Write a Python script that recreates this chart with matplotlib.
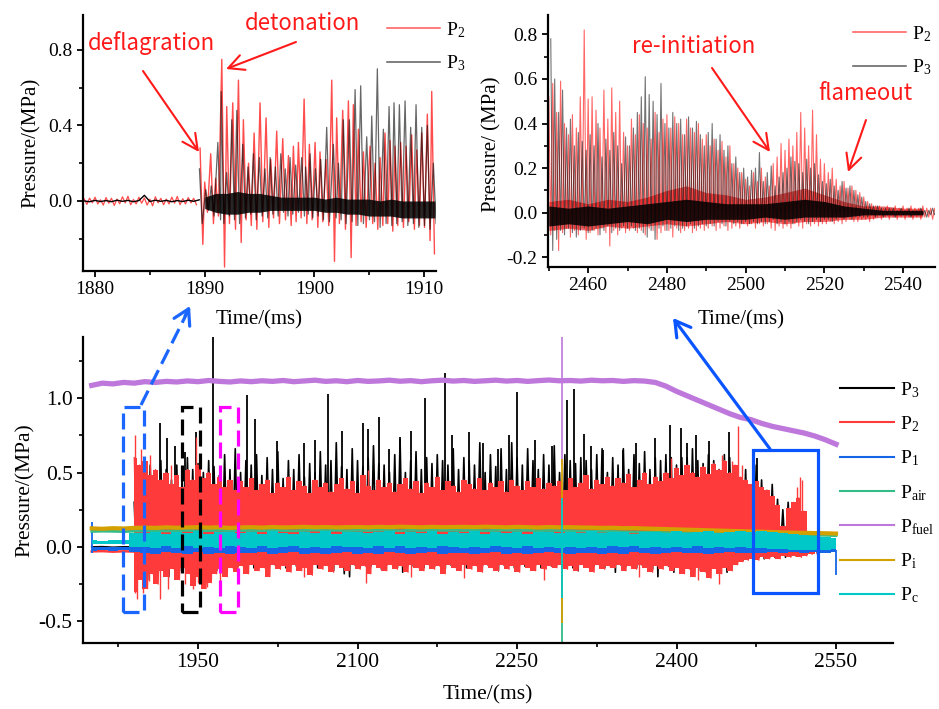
import numpy as np
import matplotlib
matplotlib.use('Agg')
import matplotlib.pyplot as plt
from matplotlib.lines import Line2D
from matplotlib.patches import Rectangle, FancyArrowPatch
from matplotlib.ticker import MultipleLocator, FixedLocator, FormatStrFormatter

plt.rcParams['font.family'] = ['Liberation Serif', 'DejaVu Serif']
plt.rcParams['mathtext.fontset'] = 'custom'
plt.rcParams['mathtext.rm'] = 'Liberation Serif'
plt.rcParams['mathtext.it'] = 'Liberation Serif:italic'
plt.rcParams['mathtext.bf'] = 'Liberation Serif:bold'

# ---------------- colours ----------------
C_P3 = '#000000'
C_P2 = '#FF3A3A'
C_P1 = '#1466E6'
C_AIR = '#33BB88'
C_FUEL = '#BE78DC'
C_I = '#D4A000'
C_C = '#00C8C8'

# ================= top-left panel data (1879-1911 ms) =================
tl_p2_pre = [0.012,-0.018,0.015,-0.010,0.020,-0.016,0.006,-0.022,0.018,-0.012,
             0.014,-0.024,0.010,-0.015,0.022,-0.010,0.025,-0.020,0.008,-0.016,
             0.020,-0.012,0.016,-0.022,0.010,-0.026,0.022,-0.010,0.014,-0.020,
             0.010,-0.016,0.020,-0.012,0.024,-0.020,0.012,-0.016,0.018,-0.010,
             0.014,-0.020]
tl_p3_pre = [0.000,-0.004,0.003,-0.003,0.002,-0.004,0.004,-0.002,0.003,-0.004,
             0.002,0.030,-0.003,0.004,-0.002,0.003,-0.004,0.002,-0.003,0.004,
             -0.002,0.006]
tl_p2_t = [1889.58,1890.0,1890.55,1891.0,1891.56,1892.01,1892.56,1893.08,1893.53,1894.0,
           1894.51,1895.05,1895.6,1896.03,1896.57,1897.12,1897.64,1898.09,1898.55,1899.07,
           1899.55,1900.07,1900.52,1901.07,1901.59,1902.04,1902.59,1903.11,1903.56,1904.02,
           1904.48,1905.08,1905.54,1906.0,1906.45,1906.91,1907.36,1907.88,1908.37,1908.88,
           1909.34,1909.8,1910.31,1910.71]
tl_p2_peak = [0.28,0.10,0.25,0.12,0.75,0.50,0.52,0.64,0.43,0.20,
              0.36,0.52,0.44,0.22,0.37,0.33,0.24,0.29,0.31,0.54,
              0.30,0.31,0.26,0.22,0.64,0.44,0.48,0.53,0.51,0.38,
              0.26,0.29,0.20,0.23,0.36,0.32,0.29,0.31,0.29,0.35,
              0.27,0.36,0.46,0.58]
tl_p2_trough = [-0.23,-0.06,-0.12,-0.08,-0.35,-0.12,-0.15,-0.22,-0.10,-0.13,
                -0.15,-0.11,-0.14,-0.09,-0.12,-0.10,-0.13,-0.11,-0.09,-0.12,
                -0.10,-0.14,-0.11,-0.13,-0.32,-0.12,-0.15,-0.30,-0.13,-0.11,
                -0.14,-0.12,-0.15,-0.13,-0.12,-0.16,-0.13,-0.14,-0.11,-0.15,
                -0.13,-0.14,-0.21,-0.28]
tl_p3_t = [1889.52,1890.1,1890.6,1891.2,1891.5,1892.0,1892.47,1892.93,1893.47,1893.95,
           1894.45,1894.99,1895.5,1895.97,1896.45,1896.94,1897.35,1897.79,1898.3,1898.85,
           1899.2,1899.61,1900.1,1900.58,1901.13,1901.74,1902.2,1902.65,1903.2,1903.72,
           1904.23,1904.78,1905.24,1905.75,1906.3,1906.82,1907.27,1907.76,1908.28,1908.79,
           1909.28,1909.8,1910.31,1910.86]
tl_p3_peak = [0.17,0.06,0.08,0.31,0.58,0.15,0.43,0.48,0.30,0.18,
              0.25,0.23,0.17,0.23,0.18,0.25,0.17,0.23,0.19,0.23,
              0.18,0.25,0.17,0.22,0.39,0.30,0.20,0.43,0.43,0.59,
              0.61,0.34,0.45,0.70,0.38,0.50,0.52,0.51,0.53,0.39,
              0.51,0.39,0.40,0.20]
tl_p3_trough = [-0.12,-0.05,-0.08,-0.10,-0.12,-0.08,-0.10,-0.12,-0.09,-0.07,
                -0.10,-0.08,-0.09,-0.07,-0.08,-0.06,-0.08,-0.07,-0.06,-0.08,
                -0.07,-0.09,-0.08,-0.10,-0.11,-0.09,-0.10,-0.12,-0.11,-0.13,
                -0.12,-0.10,-0.11,-0.14,-0.12,-0.13,-0.12,-0.11,-0.13,-0.12,
                -0.14,-0.13,-0.15,-0.12]
tl_p3_core_hi = [0.02,0.04,0.04,0.05,0.04,0.04,0.03,0.02,0.02,0.02,0.02,
                 0.01,0.02,0.01,0.01,0.01,0.00,0.01,0.00,0.00,0.00,0.00]
tl_p3_core_lo = [-0.04,-0.06,-0.07,-0.07,-0.06,-0.06,-0.05,-0.05,-0.05,-0.05,-0.05,
                 -0.06,-0.06,-0.07,-0.07,-0.08,-0.08,-0.08,-0.09,-0.09,-0.09,-0.09]

# ================= top-right panel data (2450-2548 ms, 1 ms cycles) =================
tr_p2_peak = [0.52,0.58,0.45,0.59,0.40,0.35,0.44,0.38,0.52,0.82,
              0.51,0.52,0.46,0.38,0.55,0.42,0.56,0.45,0.50,0.36,
              0.30,0.42,0.35,0.44,0.40,0.38,0.33,0.45,0.36,0.42,
              0.44,0.38,0.43,0.40,0.35,0.42,0.38,0.36,0.40,0.33,
              0.35,0.30,0.33,0.28,0.32,0.25,0.30,0.22,0.20,0.18,
              0.15,0.12,0.18,0.14,0.20,0.16,0.12,0.22,0.25,0.31,
              0.28,0.33,0.30,0.36,0.45,0.38,0.30,0.46,0.35,0.24,
              0.22,0.18,0.20,0.15,0.12,0.14,0.11,0.12,0.10,0.09,
              0.07,0.05,0.04,0.03,0.03,0.02,0.03,0.02,0.03,0.02,
              0.03,0.02,0.03,0.02,0.02,0.03,0.02,0.02,0.02]
tr_p2_trough = [-0.10,-0.08,-0.17,-0.09,-0.07,-0.11,-0.08,-0.10,-0.07,-0.12,
                -0.09,-0.08,-0.10,-0.07,-0.09,-0.15,-0.08,-0.10,-0.07,-0.09,
                -0.08,-0.07,-0.09,-0.08,-0.10,-0.07,-0.08,-0.12,-0.09,-0.08,
                -0.08,-0.11,-0.07,-0.09,-0.08,-0.07,-0.09,-0.08,-0.07,-0.08,
                -0.07,-0.06,-0.08,-0.07,-0.06,-0.08,-0.07,-0.06,-0.07,-0.05,
                -0.06,-0.05,-0.07,-0.05,-0.06,-0.05,-0.07,-0.08,-0.06,-0.07,
                -0.06,-0.07,-0.05,-0.06,-0.07,-0.05,-0.06,-0.05,-0.06,-0.05,
                -0.05,-0.04,-0.05,-0.04,-0.05,-0.04,-0.03,-0.04,-0.04,-0.03,
                -0.03,-0.04,-0.03,-0.02,-0.03,-0.02,-0.03,-0.02,-0.03,-0.02,
                -0.03,-0.02,-0.03,-0.02,-0.03,-0.02,-0.02,-0.03,-0.02]
tr_p3_peak = [0.78,0.60,0.45,0.55,0.38,0.42,0.30,0.36,0.32,0.28,
              0.35,0.30,0.40,0.25,0.33,0.28,0.36,0.30,0.22,0.34,
              0.30,0.38,0.45,0.52,0.61,0.53,0.50,0.44,0.58,0.40,
              0.38,0.45,0.40,0.42,0.35,0.43,0.38,0.41,0.35,0.30,
              0.36,0.40,0.33,0.35,0.28,0.30,0.22,0.25,0.18,0.20,
              0.16,0.19,0.20,0.27,0.14,0.18,0.21,0.12,0.16,0.18,
              0.20,0.25,0.23,0.22,0.18,0.24,0.20,0.22,0.17,0.14,
              0.13,0.15,0.12,0.10,0.14,0.11,0.12,0.10,0.08,0.07,
              0.05,0.04,0.03,0.03,0.02,0.02,0.02,0.02,0.01,0.02,
              0.01,0.02,0.01,0.01,0.02,0.01,0.01,0.02,0.01]
tr_p3_trough = [-0.17,-0.12,-0.08,-0.10,-0.07,-0.09,-0.11,-0.08,-0.07,-0.09,
                -0.08,-0.07,-0.10,-0.08,-0.06,-0.09,-0.07,-0.08,-0.06,-0.07,
                -0.06,-0.08,-0.07,-0.09,-0.11,-0.08,-0.12,-0.07,-0.06,-0.08,
                -0.07,-0.06,-0.08,-0.07,-0.06,-0.05,-0.07,-0.06,-0.05,-0.06,
                -0.05,-0.06,-0.04,-0.05,-0.06,-0.04,-0.05,-0.04,-0.05,-0.04,
                -0.05,-0.04,-0.05,-0.04,-0.05,-0.04,-0.03,-0.05,-0.04,-0.05,
                -0.04,-0.05,-0.04,-0.03,-0.04,-0.05,-0.04,-0.03,-0.04,-0.03,
                -0.03,-0.04,-0.03,-0.02,-0.03,-0.02,-0.03,-0.02,-0.02,-0.02,
                -0.02,-0.01,-0.02,-0.01,-0.02,-0.01,-0.01,-0.02,-0.01,-0.01,
                -0.01,-0.02,-0.01,-0.01,-0.01,-0.02,-0.01,-0.01,-0.01]
tr_p2_core_hi = [0.05,0.06,0.04,0.06,0.05,0.07,0.10,0.12,0.09,0.08,
                 0.06,0.07,0.09,0.11,0.08,0.05,0.03,0.03,0.02,0.02]
tr_p2_core_lo = [-0.08,-0.07,-0.08,-0.06,-0.07,-0.06,-0.05,-0.06,-0.05,-0.04,
                 -0.05,-0.04,-0.05,-0.04,-0.04,-0.03,-0.03,-0.02,-0.02,-0.02]
tr_p3_core_hi = [0.03,0.02,0.03,0.02,0.03,0.04,0.05,0.06,0.05,0.04,
                 0.04,0.04,0.05,0.06,0.05,0.03,0.02,0.01,0.01,0.01]
tr_p3_core_lo = [-0.06,-0.05,-0.06,-0.05,-0.04,-0.05,-0.03,-0.04,-0.03,-0.03,
                 -0.03,-0.02,-0.03,-0.02,-0.02,-0.02,-0.01,-0.01,-0.01,-0.01]

# ================= bottom panel data (1850-2550 ms) =================
# 5 ms envelopes, 1890-2530 ms
b_p2_hi = [0.60,0.55,0.58,0.48,0.52,0.45,0.50,0.42,0.48,0.40,
           0.52,0.45,0.55,0.46,0.50,0.42,0.47,0.40,0.45,0.38,
           0.44,0.40,0.46,0.38,0.42,0.45,0.36,0.43,0.40,0.47,
           0.38,0.44,0.41,0.36,0.45,0.40,0.43,0.37,0.42,0.46,
           0.39,0.44,0.36,0.48,0.41,0.38,0.45,0.40,0.43,0.37,
           0.42,0.46,0.39,0.44,0.36,0.43,0.40,0.47,0.38,0.44,
           0.41,0.37,0.45,0.42,0.39,0.46,0.38,0.43,0.40,0.44,
           0.37,0.45,0.41,0.38,0.44,0.40,0.46,0.39,0.43,0.41,
           0.44,0.38,0.46,0.40,0.43,0.48,0.39,0.45,0.42,0.47,
           0.41,0.46,0.43,0.49,0.40,0.45,0.50,0.42,0.47,0.44,
           0.50,0.46,0.53,0.48,0.55,0.50,0.47,0.54,0.49,0.56,
           0.52,0.58,0.50,0.55,0.47,0.45,0.42,0.44,0.40,0.38,
           0.34,0.28,0.14,0.26,0.30,0.33,0.24,0.06,0.05]
b_p2_lo = [-0.30,-0.22,-0.28,-0.18,-0.25,-0.16,-0.20,-0.15,-0.22,-0.14,
           -0.18,-0.26,-0.20,-0.28,-0.24,-0.18,-0.15,-0.20,-0.14,-0.17,
           -0.13,-0.18,-0.12,-0.16,-0.14,-0.20,-0.12,-0.15,-0.13,-0.17,
           -0.12,-0.16,-0.14,-0.19,-0.12,-0.15,-0.13,-0.17,-0.12,-0.14,
           -0.16,-0.12,-0.15,-0.13,-0.18,-0.12,-0.14,-0.16,-0.12,-0.15,
           -0.13,-0.17,-0.12,-0.14,-0.16,-0.12,-0.15,-0.13,-0.18,-0.12,
           -0.14,-0.16,-0.12,-0.15,-0.13,-0.17,-0.12,-0.14,-0.16,-0.12,
           -0.15,-0.13,-0.17,-0.12,-0.14,-0.16,-0.12,-0.15,-0.13,-0.14,
           -0.12,-0.15,-0.13,-0.16,-0.12,-0.14,-0.17,-0.12,-0.15,-0.13,
           -0.14,-0.12,-0.16,-0.13,-0.15,-0.12,-0.14,-0.17,-0.13,-0.15,
           -0.13,-0.16,-0.14,-0.18,-0.15,-0.20,-0.14,-0.17,-0.21,-0.15,
           -0.18,-0.14,-0.16,-0.12,-0.10,-0.09,-0.08,-0.09,-0.07,-0.08,
           -0.07,-0.08,-0.06,-0.07,-0.06,-0.07,-0.06,-0.05,-0.05]
b_p3_hi = [0.30,0.40,0.48,0.55,0.50,0.58,0.52,0.45,0.55,0.48,
           0.60,0.52,0.56,0.50,0.58,0.54,0.48,0.62,0.52,0.66,
           0.50,0.58,0.55,0.62,0.48,0.60,0.52,0.64,0.46,0.58,
           0.52,0.62,0.47,0.56,0.50,0.64,0.55,0.58,0.70,0.54,
           0.52,0.66,0.58,0.54,0.60,0.68,0.56,0.55,0.50,0.62,
           0.72,0.50,0.58,0.64,0.52,0.60,0.56,0.62,0.58,0.55,
           0.66,0.52,0.60,0.58,0.55,0.70,0.50,0.62,0.54,0.66,
           0.52,0.70,0.60,0.55,0.66,0.58,0.52,0.62,0.55,0.68,
           0.50,0.62,0.58,0.56,0.60,0.58,0.52,0.62,0.66,0.50,
           0.60,0.55,0.66,0.52,0.62,0.56,0.64,0.52,0.60,0.58,
           0.62,0.60,0.55,0.60,0.60,0.66,0.58,0.56,0.62,0.58,
           0.52,0.62,0.60,0.50,0.45,0.52,0.40,0.55,0.45,0.38,
           0.42,0.32,0.25,0.30,0.22,0.28,0.15,0.06,0.05]
b_p3_lo = [-0.20,-0.15,-0.22,-0.12,-0.18,-0.14,-0.20,-0.12,-0.16,-0.13,
           -0.15,-0.12,-0.17,-0.13,-0.11,-0.16,-0.12,-0.14,-0.10,-0.13,
           -0.12,-0.10,-0.14,-0.11,-0.13,-0.10,-0.12,-0.11,-0.14,-0.10,
           -0.13,-0.11,-0.12,-0.10,-0.14,-0.11,-0.12,-0.16,-0.11,-0.18,
           -0.20,-0.12,-0.14,-0.11,-0.13,-0.10,-0.15,-0.12,-0.11,-0.14,
           -0.17,-0.12,-0.13,-0.11,-0.14,-0.12,-0.13,-0.10,-0.15,-0.12,
           -0.13,-0.11,-0.14,-0.12,-0.11,-0.13,-0.12,-0.10,-0.16,-0.12,
           -0.11,-0.14,-0.12,-0.13,-0.10,-0.12,-0.14,-0.11,-0.13,-0.12,
           -0.12,-0.10,-0.14,-0.16,-0.12,-0.11,-0.13,-0.12,-0.14,-0.11,
           -0.17,-0.12,-0.13,-0.11,-0.14,-0.12,-0.13,-0.15,-0.20,-0.12,
           -0.13,-0.17,-0.12,-0.14,-0.13,-0.12,-0.16,-0.13,-0.12,-0.14,
           -0.12,-0.17,-0.11,-0.10,-0.09,-0.08,-0.08,-0.07,-0.08,-0.07,
           -0.07,-0.06,-0.07,-0.06,-0.06,-0.05,-0.05,-0.04,-0.04]
# isolated tall spikes
b_p3_spk_t = [1914,1921,1928,1938,1948,1964,1996,2004,2024,2050,2060,2072,2085,2105,2110,
              2120,2130,2140,2150,2163,2182,2189,2205,2218,2232,2242,2250,2267,2283,2297,
              2304,2313,2320,2331,2350,2362,2380,2394,2404,2410,2418,2431,2449,2476]
b_p3_spk_v = [0.83,0.73,0.68,0.64,0.77,1.45,1.02,0.86,0.71,0.70,0.72,1.03,0.78,0.83,0.79,
              0.87,0.66,0.74,0.78,1.00,1.17,0.75,0.77,0.70,0.66,0.75,1.04,0.72,0.68,0.99,
              1.06,0.76,0.68,0.65,0.65,0.70,0.73,0.82,0.80,0.70,0.75,0.71,0.77,0.60]
b_p2_spk_t = [1891,1896,1905,1925,1948,2110,2395,2443,2452,2458,2462,2513,2516,2518]
b_p2_spk_v = [0.75,0.66,0.62,0.55,0.74,0.52,0.60,0.62,0.58,0.81,0.55,0.40,0.47,0.45]
b_p2_dn_t = [1890.5,1893,1898,1904,1914,1922,1938,1945,1950,1958,1971,2050,2108,2150,
             2200,2275,2365,2420,2440]
b_p2_dn_v = [-0.31,-0.35,-0.31,-0.23,-0.35,-0.28,-0.25,-0.28,-0.24,-0.27,-0.26,-0.20,
             -0.24,-0.20,-0.21,-0.22,-0.20,-0.22,-0.25]
b_p2_pre = [-0.030,-0.028,-0.032,-0.029,-0.031]   # 1850-1890, 10 ms
b_p3_pre = [0.000,0.002,-0.002,0.001,0.000]

# 10 ms series, 1850-2550 ms
b_fuel = [1.085,1.100,1.095,1.105,1.100,
          1.110,1.105,1.112,1.108,1.115,1.110,1.118,1.112,1.108,1.115,
          1.110,1.116,1.112,1.118,1.110,1.115,1.120,1.112,1.116,1.110,
          1.118,1.112,1.115,1.120,1.113,1.117,1.110,1.116,1.120,1.114,
          1.118,1.112,1.116,1.120,1.114,1.118,1.112,1.117,1.121,1.116,
          1.118,1.114,1.120,1.116,1.118,1.112,1.117,1.114,1.105,1.080,
          1.045,1.015,0.985,0.955,0.925,0.895,0.870,0.855,0.830,0.810,
          0.795,0.780,0.765,0.745,0.720,0.690]
b_i = [0.125,0.122,0.126,0.124,0.128,
       0.130,0.128,0.132,0.129,0.131,0.133,0.130,0.132,0.128,0.131,
       0.133,0.130,0.134,0.131,0.133,0.135,0.132,0.134,0.131,0.133,
       0.134,0.132,0.135,0.133,0.136,0.134,0.132,0.135,0.133,0.134,
       0.135,0.133,0.136,0.134,0.132,0.135,0.133,0.131,0.134,0.132,
       0.133,0.131,0.130,0.128,0.129,0.126,0.127,0.124,0.122,0.120,
       0.118,0.116,0.114,0.112,0.110,0.108,0.106,0.104,0.102,0.100,
       0.098,0.096,0.095,0.093,0.092,0.090]
b_air = [0.104,0.106,0.105,0.103,0.106,
         0.108,0.110,0.107,0.109,0.111,0.108,0.110,0.112,0.109,0.110,
         0.111,0.109,0.112,0.110,0.108,0.111,0.113,0.110,0.112,0.109,
         0.112,0.110,0.113,0.111,0.109,0.112,0.110,0.113,0.111,0.112,
         0.110,0.112,0.109,0.111,0.113,0.110,0.112,0.109,0.111,0.110,
         0.109,0.107,0.106,0.105,0.104,0.102,0.101,0.100,0.099,0.097,
         0.096,0.095,0.093,0.092,0.090,0.089,0.088,0.086,0.085,0.084,
         0.083,0.081,0.080,0.079,0.078,0.076]
b_c_hi = [0.045,0.042,0.046,0.044,0.095,
          0.095,0.102,0.090,0.100,0.094,0.105,0.090,0.098,0.103,0.092,
          0.100,0.090,0.104,0.096,0.088,0.102,0.094,0.106,0.090,0.098,
          0.102,0.092,0.098,0.106,0.090,0.100,0.095,0.104,0.088,0.099,
          0.094,0.105,0.090,0.100,0.096,0.103,0.089,0.098,0.102,0.093,
          0.100,0.094,0.106,0.091,0.099,0.103,0.090,0.098,0.102,0.096,
          0.104,0.092,0.100,0.108,0.094,0.102,0.110,0.098,0.105,0.100,
          0.092,0.085,0.078,0.074,0.068,0.062]
b_c_lo = [0.018,0.020,0.017,0.021,0.000,
          0.002,-0.008,0.005,-0.004,0.006,-0.010,0.003,-0.006,0.004,-0.002,
          -0.005,0.004,-0.008,0.002,0.006,-0.006,0.003,-0.010,0.005,-0.003,
          0.003,-0.006,0.004,-0.009,0.005,-0.004,0.002,-0.007,0.006,-0.002,
          -0.004,0.003,-0.008,0.005,-0.002,-0.007,0.004,-0.005,0.002,-0.006,
          0.003,-0.006,0.002,-0.009,0.004,-0.003,0.006,-0.007,0.001,-0.004,
          0.002,-0.005,0.004,-0.008,0.003,-0.004,0.000,-0.006,-0.010,-0.012,
          -0.015,-0.018,-0.020,-0.018,-0.020,-0.015]
b_1_hi = [0.002,0.000,0.003,0.001,0.015,
          0.020,0.024,0.018,0.022,0.019,0.025,0.021,0.017,0.023,0.020,
          0.022,0.018,0.024,0.020,0.017,0.023,0.019,0.025,0.021,0.018,
          0.021,0.025,0.019,0.022,0.018,0.024,0.020,0.017,0.023,0.021,
          0.019,0.023,0.020,0.025,0.018,0.022,0.021,0.017,0.024,0.020,
          0.023,0.019,0.022,0.018,0.024,0.020,0.021,0.025,0.019,0.022,
          0.020,0.024,0.018,0.021,0.023,0.019,0.022,0.020,0.018,0.021,
          0.019,0.020,0.018,0.017,0.016,0.015]
b_1_lo = [-0.024,-0.022,-0.026,-0.023,-0.035,
          -0.038,-0.045,-0.036,-0.042,-0.048,-0.037,-0.044,-0.040,-0.046,-0.038,
          -0.043,-0.037,-0.047,-0.040,-0.036,-0.045,-0.039,-0.048,-0.041,-0.037,
          -0.044,-0.039,-0.046,-0.037,-0.043,-0.048,-0.040,-0.036,-0.045,-0.041,
          -0.038,-0.046,-0.041,-0.037,-0.044,-0.039,-0.047,-0.040,-0.036,-0.043,
          -0.045,-0.038,-0.042,-0.047,-0.039,-0.044,-0.037,-0.041,-0.046,-0.040,
          -0.037,-0.043,-0.039,-0.045,-0.040,-0.036,-0.042,-0.038,-0.041,-0.037,
          -0.040,-0.036,-0.039,-0.035,-0.038,-0.036]
# glitch at 2292 ms and start/stop transients (low, high)
glitch_t = 2292
glitch_fuel = (0.55, 1.45)
glitch_i = (-0.51, 0.59)
glitch_c = (-0.34, 0.33)
glitch_air = (-0.70, 0.11)
p1_edge_t = [1850, 2550]
p1_edge_lo = [-0.04, -0.19]
p1_edge_hi = [0.17, -0.02]

# highlighted windows in the overview (ms)
win_dash = [(1879.5, 1899.2), (1934.8, 1951.7), (1970.5, 1987.4)]
win_dash_y = (-0.44, 0.94)
win_solid = (2472, 2533)
win_solid_y = (-0.31, 0.65)


def zigzag(t, peaks, troughs, half):
    t = np.asarray(t, float)
    x = np.column_stack([t, t + half]).ravel()
    y = np.column_stack([peaks, troughs]).ravel()
    return x, y


W, H = 939, 709
fig = plt.figure(figsize=(W / 100, H / 100), dpi=100)


def fp(x, y):
    return (x / W, 1 - y / H)


def style_axes(ax, fs):
    for s in ('top', 'right'):
        ax.spines[s].set_visible(False)
    for s in ('left', 'bottom'):
        ax.spines[s].set_linewidth(1.6)
        ax.spines[s].set_zorder(10)
    ax.tick_params(which='major', direction='out', length=4.5, width=1.3, labelsize=fs, pad=3)
    ax.tick_params(which='minor', direction='out', length=3, width=1.2)


# ---------------- top-left ----------------
ax1 = fig.add_axes([83 / W, 1 - 271 / H, (436 - 83) / W, (271 - 15) / H])
ax1.plot(1879.0 + 0.25 * np.arange(len(tl_p2_pre)), tl_p2_pre, color='#FF2020', lw=0.9,
         alpha=0.8, zorder=2)
ax1.plot(1879.0 + 0.5 * np.arange(len(tl_p3_pre)), tl_p3_pre, color='k', lw=1.0, zorder=3)
tcore = np.arange(1890, 1890 + len(tl_p3_core_hi))
x, y = zigzag(tl_p2_t, tl_p2_peak, tl_p2_trough, 0.25)
ax1.plot(x, y, color='#FF0000', lw=1.0, alpha=0.7, zorder=2.2)
ax1.fill_between(tcore, tl_p3_core_lo, tl_p3_core_hi, color='k', lw=0,
                 alpha=0.85, zorder=2.4)
x, y = zigzag(tl_p3_t, tl_p3_peak, tl_p3_trough, 0.25)
ax1.plot(x, y, color='k', lw=0.9, alpha=0.6, zorder=2.5)
ax1.set_xlim(1878.9, 1911.1)
ax1.set_ylim(-0.371, 0.985)
ax1.xaxis.set_major_locator(MultipleLocator(10))
ax1.xaxis.set_minor_locator(MultipleLocator(5))
ax1.yaxis.set_major_locator(MultipleLocator(0.4))
ax1.yaxis.set_minor_locator(MultipleLocator(0.2))
ax1.yaxis.set_major_formatter(FormatStrFormatter('%.1f'))
style_axes(ax1, 14)
ax1.set_xlabel('Time/(ms)', fontsize=15)
ax1.set_ylabel('Pressure/(MPa)', fontsize=15)
ax1.xaxis.set_label_coords(0.4986, -0.152)
ax1.yaxis.set_label_coords(-0.118, 0.5)
h_top = [Line2D([], [], color='#FF3030', lw=1.1, alpha=0.8),
         Line2D([], [], color='#333333', lw=1.1, alpha=0.8)]
ax1.legend(h_top, ['P$_2$', 'P$_3$'], loc='upper left', bbox_to_anchor=fp(387, 20),
           bbox_transform=fig.transFigure, frameon=False, fontsize=14, borderpad=0,
           borderaxespad=0, handlelength=2.7, handletextpad=0.35, labelspacing=0.71)

# ---------------- top-right ----------------
ax2 = fig.add_axes([548 / W, 1 - 267 / H, (935 - 548) / W, (267 - 15) / H])
tcore2 = 2450 + 5 * np.arange(len(tr_p2_core_hi))
ax2.fill_between(tcore2, tr_p2_core_lo, tr_p2_core_hi, color='#D00000', lw=0,
                 alpha=0.55, zorder=2)
x, y = zigzag(2450 + np.arange(len(tr_p2_peak)), tr_p2_peak, tr_p2_trough, 0.5)
ax2.plot(x, y, color='#FF0000', lw=0.8, alpha=0.6, zorder=2.2)
ax2.fill_between(tcore2, tr_p3_core_lo, tr_p3_core_hi, color='k', lw=0,
                 alpha=0.85, zorder=2.4)
x, y = zigzag(2450.5 + np.arange(len(tr_p3_peak)), tr_p3_peak, tr_p3_trough, 0.5)
ax2.plot(x, y, color='k', lw=0.8, alpha=0.55, zorder=2.5)
ax2.set_xlim(2449.8, 2548.1)
ax2.set_ylim(-0.244, 0.887)
ax2.xaxis.set_major_locator(MultipleLocator(20))
ax2.xaxis.set_minor_locator(MultipleLocator(10))
ax2.yaxis.set_major_locator(MultipleLocator(0.2))
ax2.yaxis.set_minor_locator(MultipleLocator(0.1))
ax2.yaxis.set_major_formatter(FormatStrFormatter('%.1f'))
style_axes(ax2, 14)
ax2.set_xlabel('Time/(ms)', fontsize=15)
ax2.set_ylabel('Pressure/ (MPa)', fontsize=15)
ax2.xaxis.set_label_coords(0.4987, -0.171)
ax2.yaxis.set_label_coords(-0.119, 0.488)
ax2.legend(h_top, ['P$_2$', 'P$_3$'], loc='upper left', bbox_to_anchor=fp(853, 24),
           bbox_transform=fig.transFigure, frameon=False, fontsize=14, borderpad=0,
           borderaxespad=0, handlelength=2.7, handletextpad=0.35, labelspacing=0.71)

# ---------------- bottom overview ----------------
ax3 = fig.add_axes([83 / W, 1 - 643 / H, (893 - 83) / W, (643 - 337) / H])
t5 = np.arange(1890, 1890 + 5 * len(b_p2_hi), 5)
t10 = np.arange(1850, 1850 + 10 * len(b_fuel), 10)
tpre = 1850 + 10 * np.arange(len(b_p2_pre))
# P3
ax3.plot(tpre, b_p3_pre, color=C_P3, lw=1.2, zorder=2.0)
x, y = zigzag(t5, b_p3_hi, b_p3_lo, 2.5)
ax3.plot(x, y, color=C_P3, lw=1.2, zorder=2.0)
ax3.vlines(b_p3_spk_t, 0.3, b_p3_spk_v, color=C_P3, lw=1.3, zorder=2.0)
# P2
ax3.plot(tpre, b_p2_pre, color=C_P2, lw=1.8, zorder=2.1)
ax3.fill_between(t5, b_p2_lo, b_p2_hi, step='mid', color=C_P2, lw=0, zorder=2.1)
x, y = zigzag(t5, b_p2_hi, b_p2_lo, 2.5)
ax3.plot(x, y, color=C_P2, lw=0.9, zorder=2.1)
ax3.vlines(b_p2_spk_t, 0.2, b_p2_spk_v, color=C_P2, lw=1.0, zorder=2.1)
ax3.vlines(b_p2_dn_t, b_p2_dn_v, 0.0, color=C_P2, lw=1.0, zorder=2.1)
# P1
ax3.fill_between(t10, b_1_lo, b_1_hi, step='mid', color=C_P1, lw=0, zorder=2.2)
ax3.vlines(p1_edge_t, p1_edge_lo, p1_edge_hi, color=C_P1, lw=1.3, zorder=2.2)
# Pair
ax3.plot(t10, b_air, color=C_AIR, lw=2.0, zorder=2.3)
ax3.vlines([glitch_t], glitch_air[0], glitch_air[1], color=C_AIR, lw=1.3, zorder=2.3)
# Pfuel
ax3.plot(t10, b_fuel, color=C_FUEL, lw=3.8, zorder=2.4)
ax3.vlines([glitch_t], glitch_fuel[0], glitch_fuel[1], color=C_FUEL, lw=1.2, zorder=2.4)
# Pi
ax3.plot(t10, b_i, color=C_I, lw=3.0, zorder=2.5)
ax3.vlines([glitch_t], glitch_i[0], glitch_i[1], color=C_I, lw=1.3, zorder=2.5)
# Pc
ax3.fill_between(t10, b_c_lo, b_c_hi, step='mid', color=C_C, lw=0, zorder=2.6)
ax3.vlines([glitch_t], glitch_c[0], glitch_c[1], color=C_C, lw=1.3, zorder=2.6)

ax3.set_xlim(1841.8, 2603.6)
ax3.set_ylim(-0.645, 1.41)
ax3.xaxis.set_major_locator(MultipleLocator(150))
ax3.xaxis.set_minor_locator(FixedLocator([1875, 2025, 2175, 2325, 2475]))
ax3.yaxis.set_major_locator(MultipleLocator(0.5))
ax3.yaxis.set_minor_locator(MultipleLocator(0.25))
ax3.yaxis.set_major_formatter(FormatStrFormatter('%.1f'))
style_axes(ax3, 15.5)
ax3.set_xlabel('Time/(ms)', fontsize=15.5)
ax3.set_ylabel('Pressure/(MPa)', fontsize=15.5)
ax3.xaxis.set_label_coords(0.5, -0.137)
ax3.yaxis.set_label_coords(-0.059, 0.5)
h_bot = [Line2D([], [], color=c, lw=1.5) for c in (C_P3, C_P2, C_P1, C_AIR, C_FUEL, C_I, C_C)]
ax3.legend(h_bot, ['P$_3$', 'P$_2$', 'P$_1$', 'P$_{\\mathrm{air}}$', 'P$_{\\mathrm{fuel}}$',
                   'P$_{\\mathrm{i}}$', 'P$_{\\mathrm{c}}$'],
           loc='upper left', bbox_to_anchor=fp(840, 380), bbox_transform=fig.transFigure,
           frameon=False, fontsize=14, borderpad=0, borderaxespad=0, handlelength=2.8,
           handletextpad=0.3, labelspacing=0.75)

# highlight windows
for (a, b), col in zip(win_dash, ['#1A66FF', '#000000', '#FF00FF']):
    r = Rectangle((a, win_dash_y[0]), b - a, win_dash_y[1] - win_dash_y[0], fill=False,
                  edgecolor=col, lw=2.3, linestyle=(0, (5, 2.2)), clip_on=False, zorder=6)
    ax3.add_patch(r)
r = Rectangle((win_solid[0], win_solid_y[0]), win_solid[1] - win_solid[0],
              win_solid_y[1] - win_solid_y[0], fill=False, edgecolor='#0A55FF', lw=2.3,
              clip_on=False, zorder=6)
ax3.add_patch(r)

# connector arrows (figure coordinates)
line = Line2D([141 / W, 189 / W], [1 - 405 / H, 1 - 309 / H], transform=fig.transFigure,
              color='#1A66FF', lw=2.3, linestyle=(0, (5, 2.2)))
fig.add_artist(line)
fig.add_artist(FancyArrowPatch(fp(185, 316), fp(190, 306), transform=fig.transFigure,
                               arrowstyle='->,head_length=0.6,head_width=0.35', mutation_scale=18,
                               color='#1A66FF', lw=2.3, shrinkA=0, shrinkB=0))
fig.add_artist(FancyArrowPatch(fp(770, 449), fp(673, 318), transform=fig.transFigure,
                               arrowstyle='->,head_length=0.6,head_width=0.35', mutation_scale=18,
                               color='#0A55FF', lw=2.3, shrinkA=0, shrinkB=0))

# red annotations
ann_font = ['Noto Sans CJK SC', 'DejaVu Sans']
for txt, (x0, y0) in [('deflagration', (88, 50)), ('detonation', (245, 30)),
                      ('re-initiation', (632, 53)), ('flameout', (818, 100))]:
    fig.text(x0 / W, 1 - y0 / H, txt, color='#FF1A1A', fontsize=16, family=ann_font,
             ha='left', va='baseline')
for (xa, ya), (xb, yb) in [((143, 71), (199, 152)), ((296, 42), (226, 69)),
                           ((712, 68), (770, 152)), ((866, 120), (848, 172))]:
    fig.add_artist(FancyArrowPatch(fp(xa, ya), fp(xb, yb), transform=fig.transFigure,
                                   arrowstyle='->,head_length=0.7,head_width=0.35',
                                   mutation_scale=16, color='#FF1A1A', lw=1.5,
                                   shrinkA=0, shrinkB=0))

fig.savefig('out.png', dpi=100)
